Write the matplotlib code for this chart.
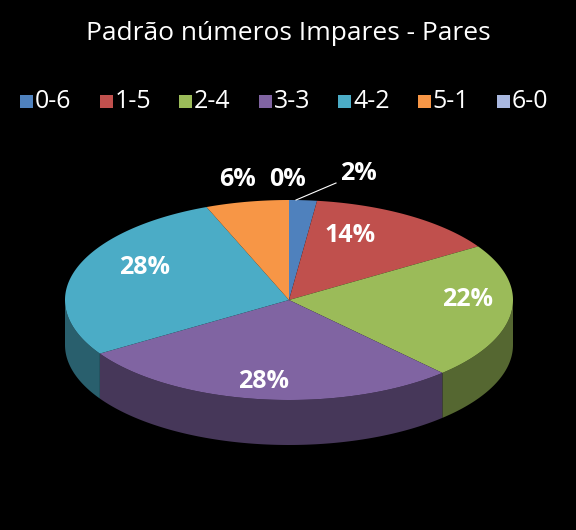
import numpy as np
import matplotlib.pyplot as plt
from matplotlib.patches import Polygon, Rectangle
import matplotlib.colors as mcolors

labels = ['0-6', '1-5', '2-4', '3-3', '4-2', '5-1', '6-0']
values = [2, 14, 22, 28, 28, 6, 0]
colors = ['#4F81BD', '#C0504D', '#9BBB59', '#8064A2', '#4BACC6', '#F79646', '#A9B8E0']

cx, cy, rx, ry, depth = 289, 300, 224, 100, 45

def pt(th, dy=0):
    return cx + rx * np.sin(th), cy - ry * np.cos(th) + dy

fig = plt.figure(figsize=(5.76, 5.30), dpi=100, facecolor='black')
ax = fig.add_axes([0, 0, 1, 1])
ax.set_xlim(0, 576)
ax.set_ylim(530, 0)
ax.axis('off')
ax.set_facecolor('black')

total = sum(values)
starts = np.cumsum([0] + values[:-1]) / total * 2 * np.pi
ends = np.cumsum(values) / total * 2 * np.pi

# side walls (front half only)
for s, e, c in zip(starts, ends, colors):
    a0, a1 = max(s, np.pi / 2), min(e, 3 * np.pi / 2)
    if a1 <= a0:
        continue
    th = np.linspace(a0, a1, 100)
    top = [pt(t) for t in th]
    bot = [pt(t, depth) for t in th[::-1]]
    dark = np.array(mcolors.to_rgb(c)) * 0.55
    ax.add_patch(Polygon(top + bot, closed=True, fc=dark, ec='none'))

# top faces
for s, e, c in zip(starts, ends, colors):
    if e - s <= 0:
        continue
    th = np.linspace(s, e, 200)
    poly = [(cx, cy)] + [pt(t) for t in th]
    ax.add_patch(Polygon(poly, closed=True, fc=c, ec='none'))

# data labels
label_pos = [(358, 174), (350, 236), (468, 299), (264, 382), (145, 267), (238, 179), (288, 179)]
for v, (x, y) in zip(values, label_pos):
    ax.text(x, y, f'{v}%', color='white', fontsize=18, fontweight='bold',
            ha='center', va='center', family='Open Sans')
ax.plot([296, 336], [200, 183], color='white', lw=0.8)

ax.text(288, 33, 'Padrão números Impares - Pares', color='white', fontsize=19,
        ha='center', va='center', family='Open Sans')

# legend
for i, (lab, c) in enumerate(zip(labels, colors)):
    x = 20 + i * 79.5
    ax.add_patch(Rectangle((x, 95), 13, 13, fc=c, ec='none'))
    ax.text(x + 15, 101, lab, color='white', fontsize=18, ha='left', va='center',
            family='Open Sans')

fig.savefig('out.png', dpi=100, facecolor='black')
